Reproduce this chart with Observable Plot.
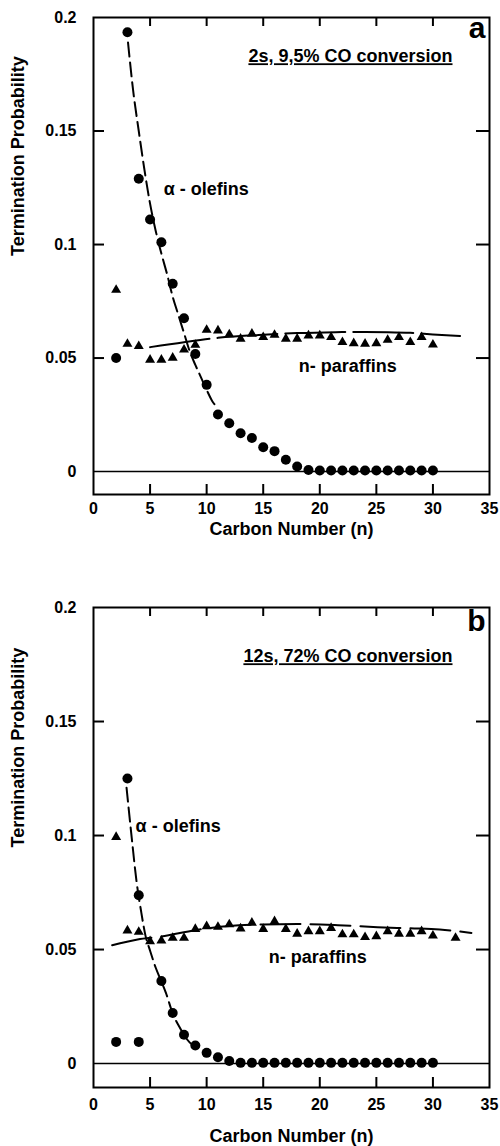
<!DOCTYPE html>
<html><head><meta charset="utf-8">
<script src="https://cdn.jsdelivr.net/npm/d3@7"></script>
<script src="https://cdn.jsdelivr.net/npm/@observablehq/plot@0.6"></script>
<style>
body{margin:0;background:#fff;}
#chart{width:500px;}
#chart svg{display:block;}
</style></head><body><div id="chart"></div>
<script>
const FONT = "'Liberation Sans', Arial, Helvetica, sans-serif";

// ---------- shared axis values ----------
const xTickValues = [0, 5, 10, 15, 20, 25, 30, 35];
const xInnerTicks = [5, 10, 15, 20, 25, 30];
const yTickValues = [0, 0.05, 0.1, 0.15, 0.2];
const yInnerTicks = [0.05, 0.1, 0.15];
const xTitle = "Carbon Number (n)";
const yTitle = "Termination Probability";

// ---------- panel a ----------
const aOlefinN = [2,3,4,5,6,7,8,9,10,11,12,13,14,15,16,17,18,19,20,21,22,23,24,25,26,27,28,29,30];
const aOlefinV = [0.050,0.1935,0.129,0.111,0.101,0.0827,0.0675,0.0518,0.0382,0.0251,0.0213,0.0169,0.0148,0.0107,0.0090,0.0052,0.0022,0.0007,0.0005,0.0005,0.0005,0.0005,0.0005,0.0005,0.0005,0.0005,0.0005,0.0005,0.0005];
const aParaffinN = [2,3,4,5,6,7,8,9,10,11,12,13,14,15,16,17,18,19,20,21,22,23,24,25,26,27,28,29,30];
const aParaffinV = [0.080,0.0562,0.0552,0.0492,0.0492,0.0501,0.0537,0.0558,0.0624,0.0621,0.0604,0.0585,0.0607,0.0592,0.0602,0.0585,0.0585,0.0599,0.0599,0.0592,0.0570,0.0565,0.0563,0.0565,0.0580,0.0592,0.0570,0.0592,0.0559];
const aOlefinFitN = [3.05,3.5,4,4.5,5,5.5,6,6.5,7,7.5,8,8.5,9,9.5,10,10.5,11];
const aOlefinFitV = [0.189,0.168,0.150,0.133,0.118,0.106,0.096,0.087,0.077,0.069,0.061,0.053,0.047,0.0415,0.036,0.031,0.028];
const aParaffinFitN = [5,8,11,15,18,21.4,24,26,28,30,32.4];
const aParaffinFitV = [0.0548,0.0570,0.0589,0.0603,0.0610,0.0614,0.0615,0.0614,0.0611,0.0604,0.0597];
const aCondition = "2s, 9,5% CO conversion";
const aLetter = "a";
const aLabels = [
  {n: 6.2, v: 0.1242, text: "α - olefins"},
  {n: 18.15, v: 0.0462, text: "n- paraffins"}
];

// ---------- panel b ----------
const bOlefinN = [2,3,4,4,6,7,8,9,10,11,12,13,14,15,16,17,18,19,20,21,22,23,24,25,26,27,28,29,30];
const bOlefinV = [0.0095,0.125,0.0738,0.0095,0.0362,0.0222,0.0126,0.0079,0.0047,0.0028,0.0011,0.0003,0.0003,0.0003,0.0003,0.0003,0.0003,0.0003,0.0003,0.0003,0.0003,0.0003,0.0003,0.0003,0.0003,0.0003,0.0003,0.0003,0.0003];
const bParaffinN = [2,3,4,5,6,7,8,9,10,11,12,13,14,15,16,17,18,19,20,21,22,23,24,25,26,27,28,29,30,32];
const bParaffinV = [0.0993,0.0583,0.0577,0.0536,0.0539,0.0551,0.0551,0.0590,0.0602,0.0599,0.0610,0.0592,0.0617,0.0590,0.0624,0.0590,0.0569,0.0580,0.0580,0.0594,0.0566,0.0566,0.0554,0.0558,0.0580,0.0569,0.0569,0.0580,0.0561,0.0551];
const bOlefinFitN = [2.92,3.4,3.8,4.2,4.6,5.0,5.5,6.0,6.4,7.0,7.6,8.2,9.0];
const bOlefinFitV = [0.121,0.098,0.080,0.067,0.056,0.0495,0.042,0.036,0.031,0.022,0.016,0.011,0.007];
const bParaffinFitN = [1.65,3.9,6,9,12,15,18,21.6,25.1,28,30.6,33.4];
const bParaffinFitV = [0.0519,0.0544,0.0557,0.0585,0.0603,0.0610,0.0612,0.0607,0.0598,0.0593,0.0588,0.0573];
const bCondition = "12s, 72% CO conversion";
const bLetter = "b";
const bLabels = [
  {n: 3.72, v: 0.1039, text: "α - olefins"},
  {n: 15.5, v: 0.0468, text: "n- paraffins"}
];

const pts = (ns, vs) => ns.map((n, i) => ({n, v: vs[i]}));

function panel(p) {
  const W = 500, ML = 93, MR = 11;
  const fw = W - ML - MR;
  const fh = p.height - p.mt - p.mb;
  const svg = Plot.plot({
    width: W,
    height: p.height,
    marginLeft: ML,
    marginRight: MR,
    marginTop: p.mt,
    marginBottom: p.mb,
    style: {fontFamily: FONT, fontWeight: "bold", fontSize: "16px", color: "#000", background: "#fff", overflow: "visible"},
    x: {domain: [0, 35]},
    y: {domain: p.yDomain},
    marks: [
      Plot.ruleY([0], {stroke: "#000", strokeWidth: 1.5}),
      Plot.axisX(xTickValues, {anchor: "bottom", tickSize: 0, tickPadding: p.xPad, label: null, fontSize: 16, fontWeight: "bold"}),
      Plot.axisY(yTickValues, {anchor: "left", tickSize: 0, tickPadding: 17, tickFormat: d => String(d), label: null, fontSize: 16, fontWeight: "bold"}),
      // inward tick marks on all four sides
      Plot.tickX(xInnerTicks, {x: d => d, insetTop: fh - 10, stroke: "#000", strokeWidth: 2}),
      Plot.tickX(xInnerTicks, {x: d => d, insetBottom: fh - 9, stroke: "#000", strokeWidth: 2}),
      Plot.tickY(yInnerTicks, {y: d => d, insetRight: fw - 11, stroke: "#000", strokeWidth: 2}),
      Plot.tickY(yInnerTicks, {y: d => d, insetLeft: fw - 13, stroke: "#000", strokeWidth: 2}),
      Plot.frame({stroke: "#000", strokeWidth: 2}),
      Plot.line(p.olefinFit, {x: "n", y: "v", stroke: "#000", strokeWidth: 2, strokeDasharray: "14,6", curve: "monotone-x"}),
      Plot.line(p.paraffinFit, {x: "n", y: "v", stroke: "#000", strokeWidth: 2, strokeDasharray: p.parDash, curve: "monotone-x"}),
      Plot.dot(p.olefins, {x: "n", y: "v", r: 5, fill: "#000", stroke: null}),
      Plot.dot(p.paraffins, {x: "n", y: "v", r: 3.7, symbol: "triangle", fill: "#000", stroke: null}),
      Plot.text(p.labels, {x: "n", y: "v", text: "text", textAnchor: "start", fontSize: 18, fontWeight: "bold", fill: "#000"}),
      Plot.text([p.condition], {frameAnchor: "top-right", textAnchor: "end", lineAnchor: "top", dx: -37, dy: p.condDy, fontSize: 18, fontWeight: "bold", fill: "#000"}),
      Plot.text([p.letter], {frameAnchor: "top-right", textAnchor: "end", lineAnchor: "top", dx: -4, dy: p.letterDy, fontSize: 30, fontWeight: "bold", fill: "#000"}),
      Plot.text([xTitle], {frameAnchor: "bottom", lineAnchor: "top", dy: p.titleDy, fontSize: 18, fontWeight: "bold", fill: "#000"}),
      Plot.text([yTitle], {frameAnchor: "left", rotate: -90, dx: -75, fontSize: 18, fontWeight: "bold", fill: "#000"})
    ]
  });
  d3.select(svg).selectAll("text").filter(function() { return this.textContent.indexOf("conversion") >= 0; })
    .style("text-decoration", "underline");
  return svg;
}

const chart = document.getElementById("chart");
chart.appendChild(panel({
  height: 553, mt: 17, mb: 59, yDomain: [-0.0101, 0.2], xPad: 8, titleDy: 28,
  olefins: pts(aOlefinN, aOlefinV), paraffins: pts(aParaffinN, aParaffinV),
  olefinFit: pts(aOlefinFitN, aOlefinFitV), paraffinFit: pts(aParaffinFitN, aParaffinFitV),
  parDash: "60,8", labels: aLabels, condition: aCondition, condDy: 32, letter: aLetter, letterDy: -1
}));
chart.appendChild(panel({
  height: 593, mt: 54, mb: 59, yDomain: [-0.0105, 0.2], xPad: 11, titleDy: 42,
  olefins: pts(bOlefinN, bOlefinV), paraffins: pts(bParaffinN, bParaffinV),
  olefinFit: pts(bOlefinFitN, bOlefinFitV), paraffinFit: pts(bParaffinFitN, bParaffinFitV),
  parDash: "40,10", labels: bLabels, condition: bCondition, condDy: 42, letter: bLetter, letterDy: 2
}));
</script></body></html>
